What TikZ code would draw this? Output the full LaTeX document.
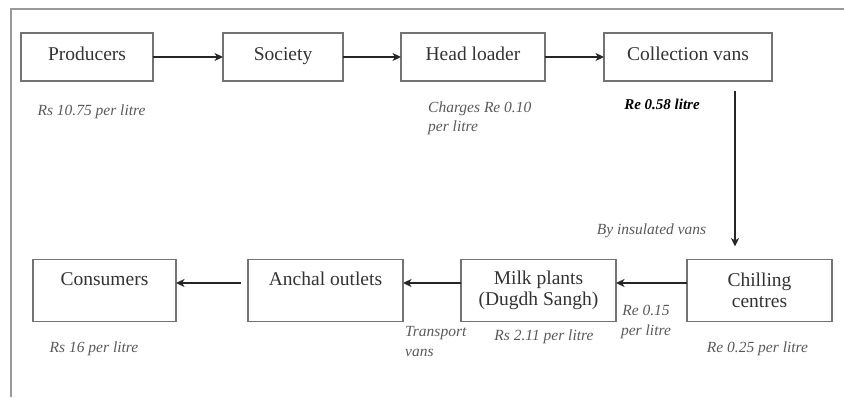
\documentclass[tikz,border=0pt]{standalone}
\usepackage{fontspec}
\setmainfont{Liberation Serif}
\usepackage{tikz}
\usetikzlibrary{positioning, arrows.meta}

\tikzset{
	box/.style={draw=black!55, line width=1.6pt, inner sep=0pt, outer sep=0pt, minimum height=48pt,
		align=center, text=black!80, font=\fontsize{19.5}{21}\selectfont},
	topbox/.style={box, text height=14pt, text depth=7pt},
	lowbox/.style={box, minimum height=62pt},
	note/.style={inner sep=0pt, text=black!65, font=\fontsize{15.5}{19.5}\selectfont\itshape},
	flow/.style={-{Stealth[length=8.5pt,width=8pt,inset=2.5pt]}, line width=1.5pt, draw=black!85},
	frame/.style={draw=black!40, line width=1.5pt}
}

\begin{document}
\begin{tikzpicture}[x=1pt, y=-1pt]
		\useasboundingbox (0,0) rectangle (844,397);
		\draw[frame] (11,397) -- (11,9) -- (844,9);
		
		% top row
		\node[topbox, minimum width=132pt] (prod) at (87,57) {Producers};
		\node[topbox, minimum width=120pt, right=70pt of prod] (soc) {Society};
		\node[topbox, minimum width=144pt, right=58pt of soc] (hload) {Head loader};
		\node[topbox, minimum width=168pt, right=59pt of hload] (cvans) {Collection vans};
		
		% bottom row
		\node[lowbox, minimum width=145pt] (chill) at (759.5,290.5) {Chilling\\centres};
		\node[lowbox, minimum width=155pt, left=71pt of chill] (milk) {Milk plants\\(Dugdh Sangh)};
		\node[lowbox, minimum width=155pt, left=58pt of milk] (anchal) {Anchal outlets\\[2pt]\mbox{}};
		\node[lowbox, minimum width=143pt, left=72pt of anchal] (cons) {Consumers\\[2pt]\mbox{}};
		
		% prices and remarks
		\node[note] (lprod) at (91.5,112) {Rs 10.75 per litre};
		\node[note, anchor=west, align=left] (lhload) at (428,118.5) {Charges Re 0.10\\per litre};
		\node[note, text=black, font=\fontsize{15}{19}\selectfont\bfseries\itshape] (lcvans) at (662,104) {Re 0.58 litre};
		\node[note] (linsul) at (651.5,231) {By insulated vans};
		\node[note] (lchill) at (757.5,349) {Re 0.25 per litre};
		\node[note, align=center] (lmilkb) at (646,322) {Re 0.15\\per litre};
		\node[note] (lmilk) at (544,337) {Rs 2.11 per litre};
		\node[note, anchor=west, align=left] (ltrans) at (405,341.5) {Transport\\vans};
		\node[note] (lcons) at (94,349) {Rs 16 per litre};
		
		\draw (prod) edge[flow] (soc);
		\draw (soc) edge[flow] (hload);
		\draw (hload) edge[flow] (cvans);
		\draw[flow] ([xshift=47pt,yshift=-10pt]cvans.south) -- ([xshift=-24.5pt,yshift=13pt]chill.north);
		\draw ([yshift=7.5pt]chill.west) edge[flow] ([yshift=7.5pt]milk.east);
		\draw ([yshift=7.5pt]milk.west) edge[flow] ([yshift=7.5pt]anchal.east);
		\draw ([yshift=7.5pt]anchal.west) edge[flow, shorten <=7pt] ([yshift=7.5pt]cons.east);
	\end{tikzpicture}
\end{document}
